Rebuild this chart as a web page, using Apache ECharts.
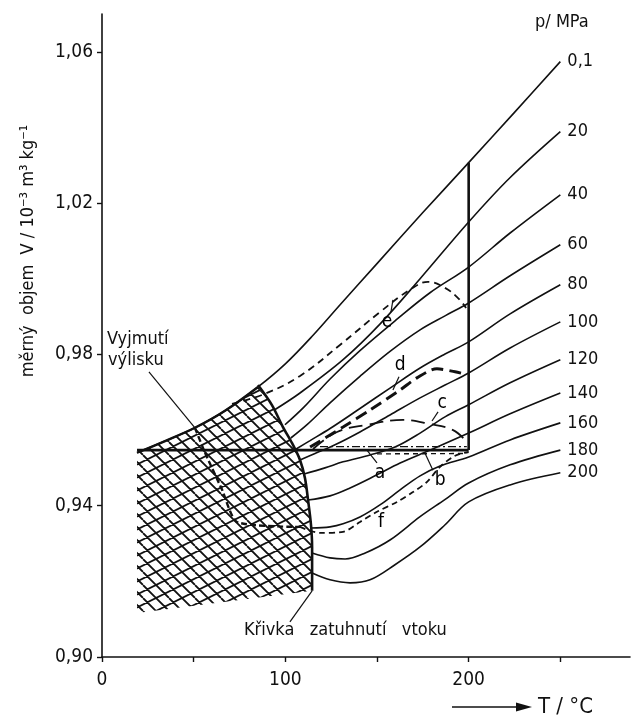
<!DOCTYPE html>
<html>
<head>
<meta charset="utf-8">
<script src="https://cdn.jsdelivr.net/npm/echarts@6/dist/echarts.min.js"></script>
<style>
html,body{margin:0;padding:0;background:#fff;}
#chart{width:632px;height:719px;}
</style>
</head>
<body>
<div id="chart"></div>
<script>
// ---------- data (T in °C, V in 10^-3 m3/kg) ----------
const xTicks = [0, 100, 200];
const yTicks = [0.90, 0.94, 0.98, 1.02, 1.06];
const isobarNames = ['0,1', '20', '40', '60', '80', '100', '120', '140', '160', '180', '200'];

const iso01 = [[19.1,0.9540],[34.4,0.9571],[50.7,0.9606],[67.1,0.9651],[85.1,0.9714],[100,0.9775],[115,0.9850],[130,0.9932],[150,1.0040],[175,1.0175],[200,1.0307],[225,1.0440],[250,1.0574]];
const iso20 = [[94,0.9653],[108,0.9698],[131.5,0.9786],[151.6,0.9880],[173.5,1.0000],[200,1.0150],[222.5,1.0267],[250,1.0389]];
const iso40 = [[99.8,0.9614],[110,0.9660],[124.4,0.9735],[140.7,0.9810],[160.9,0.9893],[178.9,0.9963],[200,1.0031],[222.6,1.0121],[250,1.0222]];
const iso60 = [[103,0.9579],[112,0.9615],[124.4,0.9672],[140.7,0.9742],[157.1,0.9808],[173.5,0.9865],[187.1,0.9902],[200,0.9936],[222.6,1.0008],[250,1.0090]];
const iso80 = [[105.9,0.9550],[113.5,0.9572],[124.4,0.9604],[140.7,0.9657],[157.1,0.9711],[173.5,0.9764],[187.1,0.9801],[200,0.9833],[222.6,0.9907],[250,0.9984]];
const iso100 = [[108,0.9521],[116.2,0.9538],[127.1,0.9561],[140.7,0.9595],[157.1,0.9640],[173.5,0.9685],[187.1,0.9719],[200,0.9751],[222.6,0.9817],[250,0.9886]];
const iso120 = [[110.2,0.9484],[121.6,0.9500],[131.5,0.9516],[146.2,0.9534],[159.8,0.9555],[173.5,0.9592],[187.1,0.9635],[200,0.9667],[222.6,0.9725],[250,0.9786]];
const iso140 = [[112.4,0.9415],[124.4,0.9426],[135.3,0.9447],[148.9,0.9479],[162.6,0.9513],[179,0.9547],[200,0.9592],[222.6,0.9643],[250,0.9698]];
const iso160 = [[114,0.9341],[124.4,0.9344],[131.5,0.9352],[140.7,0.9370],[151.6,0.9402],[162.6,0.9442],[173.5,0.9479],[184.4,0.9505],[200,0.9529],[222.6,0.9574],[250,0.9619]];
const iso180 = [[114.6,0.9275],[124.4,0.9262],[132.6,0.9259],[143.6,0.9275],[157.3,0.9310],[173.5,0.9371],[187,0.9416],[200,0.9460],[222.6,0.9508],[250,0.9547]];
const iso200 = [[114.6,0.9222],[124.4,0.9204],[135.3,0.9196],[146.2,0.9204],[159.8,0.9244],[173.5,0.9291],[187,0.9349],[200,0.9410],[222.6,0.9455],[250,0.9487]];
const isobars = [iso01, iso20, iso40, iso60, iso80, iso100, iso120, iso140, iso160, iso180, iso200];

// solidification curve of the gate ("Křivka zatuhnutí vtoku")
const gateCurve = [[85.1,0.9719],[92.7,0.9666],[98.7,0.9608],[103.6,0.9566],[108,0.9521],[110.7,0.9473],[112.4,0.9415],[114,0.9349],[114.6,0.9291],[114.6,0.9230],[114.6,0.9175]];
// hatched (solid) region outline
const hatchRegion = [[19.1,0.9540],[34.4,0.9571],[50.7,0.9606],[67.1,0.9651],[85.1,0.9714],[92.7,0.9666],[98.7,0.9608],[103.6,0.9566],[108,0.9521],[110.7,0.9473],[112.4,0.9415],[114,0.9349],[114.6,0.9291],[114.6,0.9230],[114.6,0.9175],[19.1,0.9116]];

// injection cycle paths
const cycleHorizontal = [[19.1,0.9547],[200,0.9547]];
const cycleVertical = [[200,0.9547],[200,1.0307]];
const pathInHatch = [[50.7,0.9606],[56.2,0.9540],[65.5,0.9442],[73.6,0.9357],[108,0.9344]];
const pathE = [[70.9,0.9669],[88.9,0.9696],[108,0.9743],[129.8,0.9825],[151.6,0.9912],[168,0.9971],[177.8,0.9992],[187.1,0.9976],[194.2,0.9949],[198.6,0.9923]];
const pathD = [[113.5,0.9555],[131.5,0.9608],[146.2,0.9653],[162.6,0.9706],[171.8,0.9738],[182.7,0.9762],[192.6,0.9754],[198,0.9748]];
const pathC = [[115.1,0.9550],[128.2,0.9595],[144.6,0.9614],[164.2,0.9627],[178.9,0.9616],[191.5,0.9600],[198,0.9574]];
const pathA = [[118.9,0.9556],[199,0.9556]];
const pathB = [[150,0.9537],[199,0.9538]];
const pathF = [[108,0.9344],[118.9,0.9328],[131.5,0.9331],[140.7,0.9357],[150,0.9384],[160.9,0.9410],[169.6,0.9436],[177.3,0.9463],[184.4,0.9503],[192.6,0.9532],[200,0.9542]];

// letter labels and their pointers
const letterLabels = [[151.6,0.9487,'a'],[184.4,0.9468,'b'],[185.5,0.9672,'c'],[162.6,0.9772,'d'],[155.5,0.9886,'e'],[152.2,0.9357,'f']];
const pointers = [
  [[25.6,0.9754],[50.7,0.9606]],
  [[102.5,0.9093],[114.6,0.9175]],
  [[150,0.9513],[144.5,0.9547]],
  [[180.5,0.9494],[176.2,0.9539]],
  [[183.3,0.9648],[180,0.9624]],
  [[162,0.9741],[158.7,0.9706]],
  [[157.6,0.9912],[158.7,0.9944]]
];

// ---------- chart ----------
const FF = '"DejaVu Sans Condensed", "DejaVu Sans", sans-serif';
const INK = '#111';

function makeHatch() {
  const c = document.createElement('canvas');
  c.width = 26; c.height = 13;
  const g = c.getContext('2d');
  g.strokeStyle = '#111';
  g.lineWidth = 1.8;
  g.beginPath();
  for (let k = -1; k <= 2; k++) { g.moveTo(13 * k, 0); g.lineTo(13 * k + 13, 13); }
  for (let m = 0; m <= 2; m++) { g.moveTo(0, 13 * m); g.lineTo(26, 13 * m - 13); }
  g.stroke();
  return c;
}
const hatchCanvas = makeHatch();

const chart = echarts.init(document.getElementById('chart'), null, {renderer: 'canvas'});

const series = [];
series.push({
  type: 'custom',
  z: 1,
  data: [0],
  silent: true,
  renderItem: function (params, api) {
    const pts = hatchRegion.map(p => api.coord(p));
    return {
      type: 'polygon',
      shape: {points: pts},
      style: {fill: {image: hatchCanvas, repeat: 'repeat'}, stroke: null}
    };
  }
});

isobars.forEach((d, i) => {
  series.push({
    type: 'line', name: isobarNames[i], data: d, smooth: 0.35, symbol: 'none', z: 3,
    lineStyle: {color: INK, width: 1.6},
    endLabel: {show: true, formatter: '{a}', color: INK, fontSize: 18, fontFamily: FF, distance: 7}
  });
});

function path(data, width, type, smooth) {
  series.push({type: 'line', data: data, smooth: smooth || 0, symbol: 'none', z: 4,
    lineStyle: {color: INK, width: width, type: type}});
}
path(iso01.slice(0, 5), 2.4, 'solid', 0.35);
path(gateCurve, 2.6, 'solid', 0.3);
path(cycleHorizontal, 2.8, 'solid');
path(cycleVertical, 2.6, 'solid');
path(pathInHatch, 2.4, [6, 3], 0.2);
path(pathE, 1.8, [7, 5], 0.4);
path(pathD, 3, [12, 6], 0.3);
path(pathC, 1.8, [14, 7], 0.4);
path(pathA, 1.2, [8, 3, 2, 3]);
path(pathB, 1.4, [5, 4]);
path(pathF, 1.8, [6, 4], 0.3);

series.push({
  type: 'lines', coordinateSystem: 'cartesian2d', z: 4, silent: true,
  lineStyle: {color: INK, width: 1.2, opacity: 1},
  data: pointers.map(p => ({coords: p}))
});
series.push({
  type: 'custom', z: 5, silent: true,
  data: letterLabels,
  renderItem: function (params, api) {
    const p = api.coord([api.value(0), api.value(1)]);
    return {
      type: 'text', x: p[0], y: p[1],
      style: {text: letterLabels[params.dataIndex][2], font: '19px ' + FF, fill: '#000',
        textAlign: 'center', textVerticalAlign: 'middle'}
    };
  }
});

chart.setOption({
  animation: false,
  backgroundColor: '#fff',
  grid: {left: 102, right: 2, top: 14, bottom: 62, containLabel: false},
  xAxis: {
    type: 'value', min: 0, max: 288, interval: 50,
    axisLine: {lineStyle: {color: INK, width: 1.6}},
    axisTick: {length: 5, lineStyle: {color: INK, width: 1.4}},
    splitLine: {show: false},
    axisLabel: {
      color: INK, fontSize: 19, fontFamily: FF, margin: 14, showMaxLabel: false,
      formatter: v => xTicks.indexOf(Math.round(v)) >= 0 ? String(Math.round(v)) : ''
    }
  },
  yAxis: {
    type: 'value', min: 0.90, max: 1.07, interval: 0.04,
    axisLine: {show: true, lineStyle: {color: INK, width: 1.6}},
    axisTick: {show: true, length: 5, lineStyle: {color: INK, width: 1.4}},
    splitLine: {show: false},
    axisLabel: {
      color: INK, fontSize: 19, fontFamily: FF, margin: 9, showMaxLabel: false,
      formatter: v => {
        const r = Math.round(v * 100) / 100;
        return yTicks.some(t => Math.abs(t - r) < 1e-6) ? r.toFixed(2).replace('.', ',') : '';
      }
    }
  },
  graphic: [
    {type: 'text', x: 28, y: 251, rotation: Math.PI / 2,
      style: {text: 'měrný  objem  V / 10⁻³ m³ kg⁻¹', font: '18px ' + FF, fill: INK, textAlign: 'center', textVerticalAlign: 'middle'}},
    {type: 'text', x: 535, y: 22,
      style: {text: 'p/ MPa', font: '18px ' + FF, fill: INK, textAlign: 'left', textVerticalAlign: 'middle'}},
    {type: 'text', x: 107, y: 339,
      style: {text: 'Vyjmutí', font: '18px ' + FF, fill: INK, textAlign: 'left', textVerticalAlign: 'middle'}},
    {type: 'text', x: 108, y: 360,
      style: {text: 'výlisku', font: '18px ' + FF, fill: INK, textAlign: 'left', textVerticalAlign: 'middle'}},
    {type: 'text', x: 244, y: 630,
      style: {text: 'Křivka   zatuhnutí   vtoku', font: '18px ' + FF, fill: INK, textAlign: 'left', textVerticalAlign: 'middle'}},
    {type: 'line', shape: {x1: 452, y1: 707, x2: 522, y2: 707}, style: {stroke: INK, lineWidth: 1.6}},
    {type: 'polygon', shape: {points: [[532, 707], [516, 702.5], [516, 711.5]]}, style: {fill: INK}},
    {type: 'text', x: 538, y: 707,
      style: {text: 'T / °C', font: '22px ' + FF, fill: INK, textAlign: 'left', textVerticalAlign: 'middle'}}
  ],
  series: series
});
</script>
</body>
</html>
